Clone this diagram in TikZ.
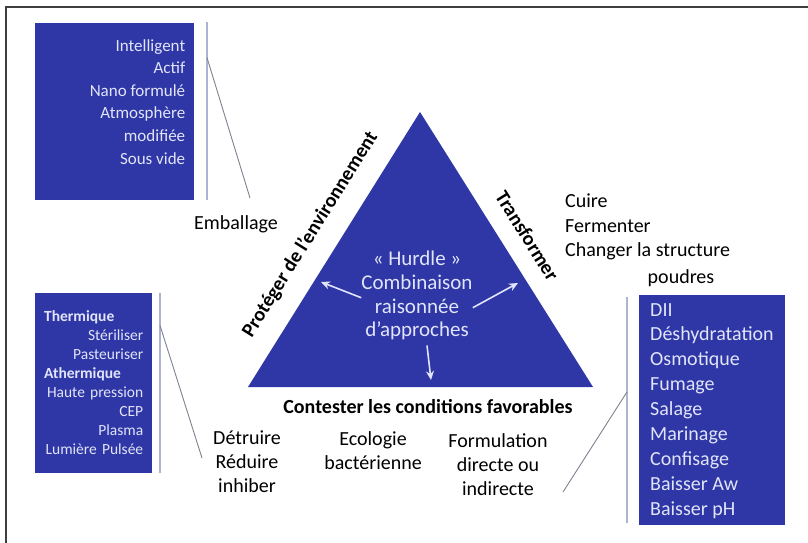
\documentclass[tikz,border=0pt]{standalone}
\usepackage{fontspec}
\setmainfont{Carlito}
\usepackage{tikz}
\usetikzlibrary{
    arrows.meta,
    positioning,
    calc
}
\definecolor{Hblue}{RGB}{46, 55, 165}
\definecolor{Hpale}{RGB}{226, 228, 250}
\definecolor{Hbar}{RGB}{172, 180, 208}
\definecolor{Hlink}{RGB}{128, 128, 142}
\definecolor{Hframe}{RGB}{62, 62, 62}
\tikzset{
    hpanel/.style={
        rectangle, fill=Hblue, draw=none, anchor=north west, inner sep=0pt
    },
    hlist/.style={text=Hpale, inner sep=0pt},
    htext/.style={
        text=black, inner sep=0pt, align=center,
        font=\fontsize{20}{24.5}\selectfont
    },
    hside/.style={
        text=black, inner sep=0pt, anchor=base,
        font=\bfseries\fontsize{20}{24}\selectfont
    },
    hbar/.style={draw=Hbar, line width=2pt},
    hlink/.style={draw=Hlink, line width=0.9pt},
    harr/.style={-{Stealth[length=9pt, width=8pt]}, line width=1.6pt, Hpale},
}

\begin{document}
\begin{tikzpicture}[x=1pt, y=-1pt]
    \useasboundingbox (0,0) rectangle (808,543);

    % ── cadre ────────────────────────────────────────────
    \coordinate (frameTop) at (808,7);
    \coordinate (frameCorner) at (6,7);
    \coordinate (frameBot) at (6,543);
    \draw [Hframe, line width=2pt] (frameTop) -- (frameCorner) -- (frameBot);

    % ── triangle central ─────────────────────────────────
    \coordinate (apex) at (420,112);
    \coordinate (baseL) at (248,387);
    \coordinate (baseR) at (593,387);
    \fill [Hblue] (apex) -- (baseL) -- (baseR) -- cycle;

    \node [hside, rotate=58] (protect) at ($(apex)!0.5!(baseL)+(-19,-12)$)
        {Protéger de l’environnement};
    \node [hside, rotate=-58] (transform) at ($(apex)!0.5!(baseR)+(15,-10)$)
        {Transformer};
    \node [hside] (contest) at (428,413) {Contester les conditions favorables};

    \node [hlist, align=center, anchor=north, font=\fontsize{21}{23.7}\selectfont]
        (hurdle) at (417,251) {« Hurdle »\\Combinaison\\raisonnée\\d’approches};
    \coordinate (protTip) at (321,282);
    \coordinate (transTip) at (518,283);
    \coordinate (contTip) at (431,380);
    \draw [harr] ([yshift=-2pt]hurdle.west) -- (protTip);
    \draw [harr] ([yshift=-12pt]hurdle.east) -- (transTip);
    \draw [harr] ([xshift=10pt, yshift=-5pt]hurdle.south) -- (contTip);

    % ── emballage ────────────────────────────────────────
    \node [hpanel, minimum width=159pt, minimum height=177pt] (packbox) at (35,23) {};
    \node [hlist, align=right, font=\fontsize{17}{22.6}\selectfont,
        below left=16pt and 9pt of packbox.north east]
        (packlist) {Intelligent\\Actif\\Nano formulé\\Atmosphère\\modifiée\\Sous vide};
    \node [htext, anchor=base] (pack) at (236,229) {Emballage};
    \coordinate (packBarTop) at (207,22);
    \coordinate (packBarBot) at (207,200);
    \coordinate (packFoot) at (250,198);
    \draw [hbar] (packBarTop) -- (packBarBot);
    \draw [hlink] ($(packBarTop)!0.2!(packBarBot)$) -- (packFoot);

    % ── traitements ──────────────────────────────────────
    \node [hpanel, minimum width=117pt, minimum height=180pt] (treatbox) at (35,293) {};
    \node [hlist, align=right, text width=99pt, font=\fontsize{15.5}{19.1}\selectfont,
        below right=17pt and 9pt of treatbox.north west]
        (treatlist) {\makebox[99pt][l]{\bfseries Thermique}\\Stériliser\\Pasteuriser\\
        \makebox[99pt][l]{\bfseries Athermique}\\Haute pression\\CEP\\Plasma\\Lumière Pulsée};
    \node [htext, anchor=north, font=\fontsize{20}{24}\selectfont]
        (destroy) at (247,431) {Détruire\\Réduire\\inhiber};
    \coordinate (treatBarTop) at (160,293);
    \coordinate (treatBarBot) at (160,473);
    \coordinate (treatFoot) at (202,458);
    \draw [hbar] (treatBarTop) -- (treatBarBot);
    \draw [hlink] ($(treatBarTop)!0.18!(treatBarBot)$) -- (treatFoot);

    \node [htext, anchor=north, font=\fontsize{20}{24}\selectfont]
        (ecology) at (373,431) {Ecologie\\bactérienne};

    % ── formulation ──────────────────────────────────────
    \node [htext, anchor=north, font=\fontsize{20}{24}\selectfont]
        (formula) at (498,433) {Formulation\\directe ou\\indirecte};
    \node [htext, align=left, anchor=north west] (cook) at (565,194)
        {Cuire\\Fermenter\\Changer la structure};
    \node [htext, anchor=base] (powder) at (681,283) {poudres};
    \node [hpanel, minimum width=146pt, minimum height=230pt] (formbox) at (639,295) {};
    \node [hlist, align=left, font=\fontsize{20}{24.9}\selectfont,
        below right=8pt and 11pt of formbox.north west]
        (formlist) {DII\\Déshydratation\\Osmotique\\Fumage\\Salage\\Marinage\\Confisage\\Baisser Aw\\Baisser pH};
    \coordinate (formBarTop) at (627,297);
    \coordinate (formBarBot) at (627,523);
    \coordinate (formFoot) at (563,492);
    \draw [hbar] (formBarTop) -- (formBarBot);
    \draw [hlink] ($(formBarTop)!0.42!(formBarBot)$) -- (formFoot);

\end{tikzpicture}
\end{document}
